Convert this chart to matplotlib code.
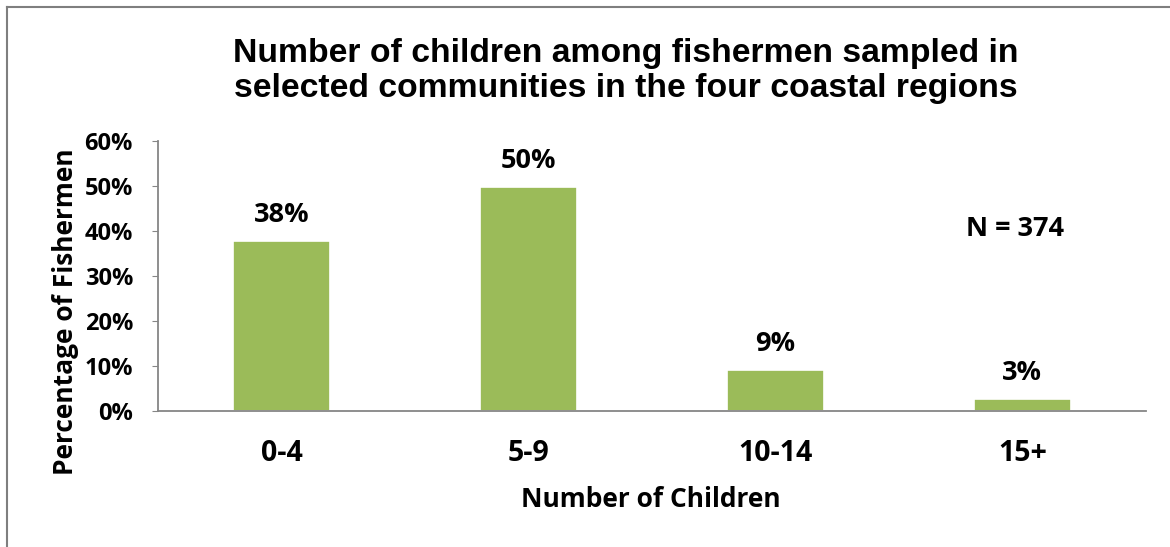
import matplotlib
matplotlib.use('Agg')
import matplotlib.pyplot as plt
from matplotlib.lines import Line2D

# 数据
categories = ['0-4', '5-9', '10-14', '15+']
percentages = [0.377, 0.497, 0.091, 0.027]
bar_labels = ['38%', '50%', '9%', '3%']
y_ticks = [0, 0.1, 0.2, 0.3, 0.4, 0.5, 0.6]
y_tick_labels = ['0%', '10%', '20%', '30%', '40%', '50%', '60%']
sample_note = 'N = 374'

label_font = 'Open Sans'
title_font = 'Liberation Sans'
bar_color = '#9BBB59'
axis_color = '#868686'

fig = plt.figure(figsize=(11.7, 5.47), dpi=100)
ax = fig.add_axes([0.135, 0.2486, 0.8444, 0.4936])

x = list(range(len(categories)))
ax.bar(x, percentages, width=0.39, color=bar_color, edgecolor='white', linewidth=1.2)
ax.set_xlim(-0.5, len(categories) - 0.5)
ax.set_ylim(0, 0.6)

# 柱子上的百分比
for xi, v, lab in zip(x, percentages, bar_labels):
    ax.annotate(lab, (xi, v), xytext=(0, 13), textcoords='offset pixels',
                ha='center', va='bottom', fontsize=19.5, fontweight='bold', family=label_font)

ax.set_yticks(y_ticks)
ax.set_yticklabels(y_tick_labels, fontsize=17, fontweight='bold', family=label_font)
ax.set_xticks(x)
ax.set_xticklabels(categories, fontsize=20.5, fontweight='bold', family=label_font)
ax.tick_params(axis='x', length=0, pad=20)
ax.tick_params(axis='y', length=4, color=axis_color, pad=14, direction='out')

for s in ['top', 'right']:
    ax.spines[s].set_visible(False)
ax.spines['left'].set_color(axis_color)
ax.spines['bottom'].set_color(axis_color)
ax.spines['left'].set_linewidth(1.3)
ax.spines['bottom'].set_linewidth(1.3)

ax.text(3.0 - 0.03, 0.405, sample_note, ha='center', va='center', fontsize=19.5,
        fontweight='bold', family=label_font)

fig.text(0.535, 0.870, 'Number of children among fishermen sampled in\nselected communities in the four coastal regions',
         ha='center', va='center', fontsize=24.3, fontweight='bold', family=title_font,
         linespacing=1.15)
fig.text(0.556, 0.086, 'Number of Children', ha='center', va='center', fontsize=19,
         fontweight='bold', family=label_font)
fig.text(0.0556, 0.4296, 'Percentage of Fishermen', ha='center', va='center', rotation=90,
         fontsize=19, fontweight='bold', family=label_font)

# 外框（只留左边和上边）
fig.add_artist(Line2D([7 / 1170, 7 / 1170], [0, 1 - 7 / 547], transform=fig.transFigure,
                      color='#7f7f7f', linewidth=1.5))
fig.add_artist(Line2D([7 / 1170, 1], [1 - 7 / 547, 1 - 7 / 547], transform=fig.transFigure,
                      color='#7f7f7f', linewidth=1.5))

fig.savefig('out.png', dpi=100, facecolor='white')
